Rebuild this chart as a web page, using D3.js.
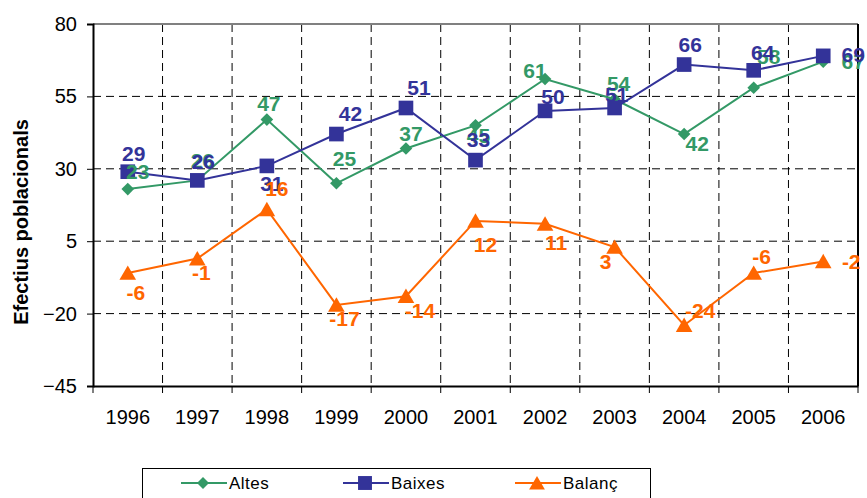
<!DOCTYPE html>
<html>
<head>
<meta charset="utf-8">
<script src="https://cdn.jsdelivr.net/npm/d3@7/dist/d3.min.js"></script>
<style>
	body { margin: 0; background: #fff; }
	text { font-family: Arial, "Liberation Sans", sans-serif; }
</style>
</head>
<body>
<div id="chart"></div>
<script>

var years   = ["1996","1997","1998","1999","2000","2001","2002","2003","2004","2005","2006"];
var altes   = [23, 26, 47, 25, 37, 45, 61, 54, 42, 58, 67];
var baixes  = [29, 26, 31, 42, 51, 33, 50, 51, 66, 64, 69];
var balanc  = [-6, -1, 16, -17, -14, 12, 11, 3, -24, -6, -2];
var yTicks  = [80, 55, 30, 5, -20, -45];

// hand placed label nudges, like in the original sheet
var altesNudge  = [[10,-18],[5,-20],[2,-16],[8,-25],[5,-15],[3,10],[-10,-9],[4,-16],[13,9],[15,-31],[30,0]];
var baixesNudge = [[6,-18],[6,-19],[5,18],[14,-21],[13,-20],[3,-21],[8,-14],[2,-13],[6,-20],[9,-18],[30,-1]];
var balancNudge = [[8,19],[4,14],[10,-21],[8,14],[14,14],[10,24],[11,19],[-9,15],[16,-15],[8,-17],[28,0]];

var W = 867, H = 498;
var margin = { left: 93, top: 24, right: 9, bottom: 112 };
var innerW = W - margin.left - margin.right;
var innerH = H - margin.top - margin.bottom;

var svg = d3.select("#chart")
	.append("svg")
	.attr("width", W)
	.attr("height", H);

var x = d3.scaleBand()
	.domain(years)
	.range([margin.left, margin.left + innerW]);

var y = d3.scaleLinear()
	.domain([-45, 80])
	.range([margin.top + innerH, margin.top]);

var cx = function(d, i) { return x(years[i]) + x.bandwidth()/2; };

// grid
var grid = svg.append("g");

grid.selectAll("line.h")
	.data(yTicks.filter(function(t) { return t > -45 && t < 80; }))
	.enter().append("line")
	.attr("x1", margin.left)
	.attr("x2", margin.left + innerW)
	.attr("y1", function(d) { return y(d); })
	.attr("y2", function(d) { return y(d); })
	.attr("stroke", "#000")
	.attr("stroke-width", 1)
	.attr("stroke-dasharray", "8,5");

grid.selectAll("line.v")
	.data(years.slice(1))
	.enter().append("line")
	.attr("x1", function(d) { return x(d); })
	.attr("x2", function(d) { return x(d); })
	.attr("y1", margin.top)
	.attr("y2", margin.top + innerH)
	.attr("stroke", "#000")
	.attr("stroke-width", 1)
	.attr("stroke-dasharray", "8,5");

// frame
svg.append("line")
	.attr("x1", margin.left).attr("x2", margin.left + innerW)
	.attr("y1", margin.top).attr("y2", margin.top)
	.attr("stroke", "#808080").attr("stroke-width", 2);

svg.append("line")
	.attr("x1", margin.left + innerW).attr("x2", margin.left + innerW)
	.attr("y1", margin.top).attr("y2", margin.top + innerH)
	.attr("stroke", "#000").attr("stroke-width", 2);

// axes
var yAxis = svg.append("g")
	.attr("transform", "translate(" + margin.left + ",0)")
	.call(d3.axisLeft(y).tickValues(yTicks).tickSize(6).tickPadding(10));

var xAxis = svg.append("g")
	.attr("transform", "translate(0," + (margin.top + innerH) + ")")
	.call(d3.axisBottom(x).tickSize(0).tickPadding(24));

[yAxis, xAxis].forEach(function(a) {
	a.select(".domain").attr("stroke", "#000").attr("stroke-width", 2);
	a.selectAll("text").attr("font-size", 20).attr("fill", "#000")
		.attr("font-family", "Arial, 'Liberation Sans', sans-serif");
});

// x ticks at the band edges
xAxis.selectAll("line.edge")
	.data(x.domain().concat(["end"]))
	.enter().append("line")
	.attr("x1", function(d, i) { return i < years.length ? x(d) : margin.left + innerW; })
	.attr("x2", function(d, i) { return i < years.length ? x(d) : margin.left + innerW; })
	.attr("y1", 0).attr("y2", 7)
	.attr("stroke", "#000").attr("stroke-width", 1);

svg.append("text")
	.attr("transform", "translate(28,222) rotate(-90)")
	.attr("text-anchor", "middle")
	.attr("font-size", 20)
	.attr("font-weight", "bold")
	.text("Efectius poblacionals");

// series (diamond = square turned 45deg, like excel)
var series = [
	{ name: "Altes",  values: altes,  color: "#339966", shape: d3.symbolSquare,   size: 80,  rot: 45, nudge: altesNudge },
	{ name: "Baixes", values: baixes, color: "#333399", shape: d3.symbolSquare,   size: 215, rot: 0,  nudge: baixesNudge },
	{ name: "Balanç", values: balanc, color: "#FF6600", shape: d3.symbolTriangle, size: 120, rot: 0,  nudge: balancNudge }
];

var line = d3.line()
	.x(cx)
	.y(function(d) { return y(d); });

series.forEach(function(s) {
	var g = svg.append("g");

	g.append("path")
		.attr("d", line(s.values))
		.attr("fill", "none")
		.attr("stroke", s.color)
		.attr("stroke-width", 2);

	g.selectAll("path.mark")
		.data(s.values)
		.enter().append("path")
		.attr("class", "mark")
		.attr("d", d3.symbol().type(s.shape).size(s.size))
		.attr("transform", function(d, i) {
			var sy = s.shape === d3.symbolTriangle ? 2 : 0;
			return "translate(" + cx(d, i) + "," + (y(d) + sy) + ") rotate(" + s.rot + ")";
		})
		.attr("fill", s.color);
});

// labels drawn after all lines so they sit on top
series.forEach(function(s) {
	svg.append("g").selectAll("text")
		.data(s.values)
		.enter().append("text")
		.attr("x", function(d, i) { return cx(d, i) + s.nudge[i][0]; })
		.attr("y", function(d, i) { return y(d) + s.nudge[i][1]; })
		.attr("text-anchor", "middle")
		.attr("dominant-baseline", "central")
		.attr("font-size", 21)
		.attr("font-weight", "bold")
		.attr("fill", s.color)
		.text(function(d) { return d; });
});

// legend
var legend = svg.append("g");

legend.append("rect")
	.attr("x", 142.5).attr("y", 468.5)
	.attr("width", 508).attr("height", 40)
	.attr("fill", "#fff")
	.attr("stroke", "#000")
	.attr("stroke-width", 1);

var legendX = [181, 343, 515];

series.forEach(function(s, i) {
	var lx = legendX[i], ly = 483;
	var item = legend.append("g");

	item.append("line")
		.attr("x1", lx).attr("x2", lx + 46)
		.attr("y1", ly).attr("y2", ly)
		.attr("stroke", s.color).attr("stroke-width", 2);

	item.append("path")
		.attr("d", d3.symbol().type(s.shape).size(s.size * 0.9))
		.attr("transform", "translate(" + (lx + 22) + "," + (ly + (s.shape === d3.symbolTriangle ? 2 : 0)) + ") rotate(" + s.rot + ")")
		.attr("fill", s.color);

	item.append("text")
		.attr("x", lx + 48)
		.attr("y", ly)
		.attr("dominant-baseline", "central")
		.attr("font-size", 17)
		.attr("letter-spacing", 0.5)
		.attr("fill", "#000")
		.text(s.name);
});

</script>
</body>
</html>
